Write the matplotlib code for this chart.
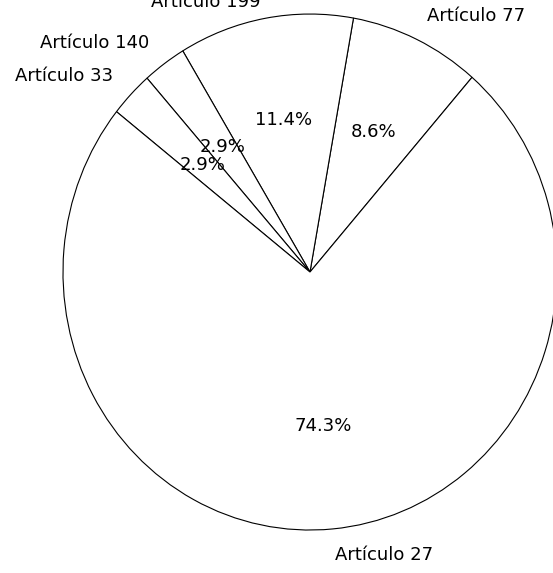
import matplotlib
matplotlib.use("Agg")
import matplotlib.pyplot as plt

labels = ["Artículo 77", "Artículo 199", "Artículo 140", "Artículo 33", "Artículo 27"]
counts = [3, 4, 1, 1, 26]

fig = plt.figure(figsize=(5.53, 5.73), dpi=100)
ax = fig.add_axes([0.1139, 0.0750, 0.8933, 0.9005])
wedges, texts, autotexts = ax.pie(
    counts, labels=labels, autopct="%1.1f%%", startangle=49,
    colors=["white"] * len(counts),
    wedgeprops=dict(edgecolor="black", linewidth=0.8),
    textprops=dict(fontsize=13, color="black"),
    labeldistance=1.1, pctdistance=0.6,
)
# top label sits partly above the figure edge, as in the reference
texts[1].set_y(1.045)
ax.set_aspect("auto")
ax.set_xlim(-1, 1)
ax.set_ylim(-1, 1)
fig.savefig("out.png", dpi=100)
